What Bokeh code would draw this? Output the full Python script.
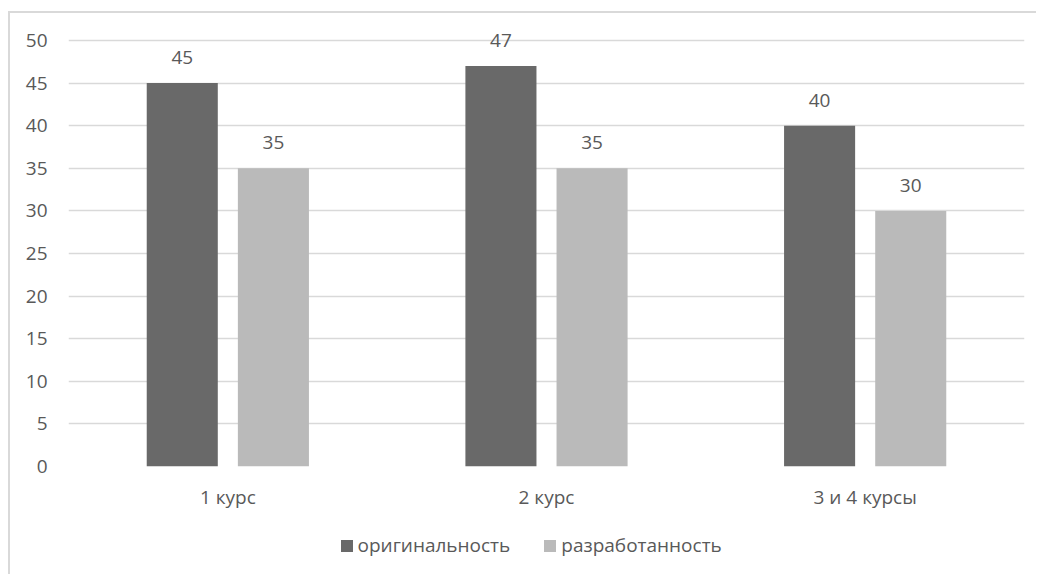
from bokeh.plotting import figure
from bokeh.layouts import column
from bokeh.models import (ColumnDataSource, FactorRange, Range1d, FixedTicker, Legend,
                          LegendItem, LabelSet)
from bokeh.core.properties import value
from bokeh.transform import dodge
from bokeh.embed import file_html
from bokeh.resources import INLINE

categories = ["1 курс", "2 курс", "3 и 4 курсы"]
originality = [45, 47, 40]
elaboration = [35, 35, 30]
series_names = ["оригинальность", "разработанность"]
y_ticks = [0, 5, 10, 15, 20, 25, 30, 35, 40, 45, 50]

FONT = "Open Sans"
TXT = "#595959"
FS = "19px"
DARK = "#696969"
LIGHT = "#bababa"
GRID = "#d9d9d9"
BORDER = "2px solid #d9d9d9"

# layout constants (pixels)
W = 1028
H_MAIN = 507
H_LEG = 56
TOP, BOTTOM, LEFT, RIGHT = 7, 54, 58, 14
PX_PER_UNIT = 8.52
y_end = (H_MAIN - TOP - BOTTOM) / PX_PER_UNIT

src = ColumnDataSource(dict(
    cat=categories,
    orig=originality,
    elab=elaboration,
    orig_lbl=[str(v) for v in originality],
    elab_lbl=[str(v) for v in elaboration],
))

p = figure(
    x_range=FactorRange(factors=categories, range_padding=0),
    y_range=Range1d(0, y_end),
    width=W, height=H_MAIN,
    output_backend="svg", toolbar_location=None,
    min_border_left=LEFT, min_border_right=RIGHT, min_border_top=TOP, min_border_bottom=BOTTOM,
)
p.styles = {"margin-left": "8px", "margin-top": "11px", "border-left": BORDER, "border-top": BORDER}
p.outline_line_color = None

off = 0.143
bw = 0.223
p.vbar(x=dodge("cat", -off, range=p.x_range), top="orig", width=bw, source=src,
       fill_color=DARK, line_color=None)
p.vbar(x=dodge("cat", off, range=p.x_range), top="elab", width=bw, source=src,
       fill_color=LIGHT, line_color=None)

for xo, col, lbl in [(-off, "orig", "orig_lbl"), (off, "elab", "elab_lbl")]:
    ls = LabelSet(x=dodge("cat", xo, range=p.x_range), y=col, text=lbl, source=src,
                  text_align="center", text_baseline="alphabetic", y_offset=19,
                  text_font=value(FONT), text_font_size=value(FS), text_color=value(TXT))
    p.add_layout(ls)

p.xgrid.grid_line_color = None
p.ygrid.grid_line_color = GRID
p.ygrid.grid_line_width = 1.5

p.yaxis.ticker = FixedTicker(ticks=y_ticks)
p.yaxis.axis_line_color = None
p.yaxis.major_tick_line_color = None
p.yaxis.minor_tick_line_color = None
p.yaxis.major_label_standoff = 15
p.yaxis.major_label_text_font = FONT
p.yaxis.major_label_text_font_size = FS
p.yaxis.major_label_text_color = TXT

p.xaxis.axis_line_color = None
p.xaxis.major_tick_line_color = None
p.xaxis.minor_tick_line_color = None
p.xaxis.major_label_standoff = 11
p.xaxis.major_label_text_font = FONT
p.xaxis.major_label_text_font_size = FS
p.xaxis.major_label_text_color = TXT

# legend strip below the chart (key glyphs are zero-size, only their swatches show)
p2 = figure(width=W, height=H_LEG, x_range=Range1d(0, 1), y_range=Range1d(0, 1),
            x_axis_type=None, y_axis_type=None,
            output_backend="svg", toolbar_location=None, min_border=0)
p2.styles = {"margin-left": "8px", "border-left": BORDER}
p2.outline_line_color = None
p2.grid.visible = False
k1 = p2.vbar(x=[0], top=[0], width=0, fill_color=DARK, line_color=None)
k2 = p2.vbar(x=[0], top=[0], width=0, fill_color=LIGHT, line_color=None)

legend = Legend(
    items=[LegendItem(label=series_names[0], renderers=[k1]),
           LegendItem(label=series_names[1], renderers=[k2])],
    orientation="horizontal", location=(270.5, 16),
    glyph_width=15, glyph_height=15, label_standoff=4, spacing=32,
    padding=0, margin=0, border_line_color=None, background_fill_alpha=0,
    label_text_font=FONT, label_text_font_size=FS, label_text_color=TXT,
)
p2.add_layout(legend, "center")

layout = column(p, p2)
open("out.html", "w").write(file_html(layout, INLINE))
